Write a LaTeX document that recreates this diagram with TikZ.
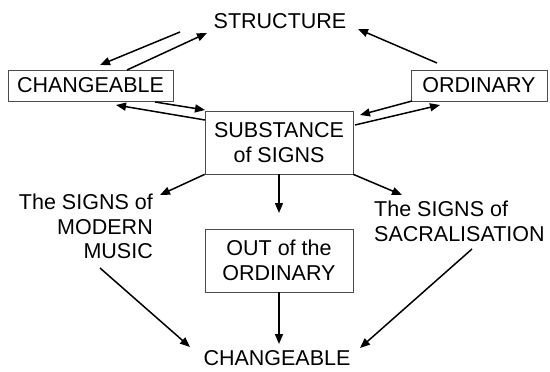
\documentclass[tikz,border=0pt]{standalone}
\usepackage{fontspec}
\setmainfont{Liberation Sans}
\usetikzlibrary{arrows.meta}
\begin{document}
\begin{tikzpicture}[x=1pt,y=-1pt,
  lbl/.style={font=\fontsize{21.5}{24.5}\selectfont, inner sep=0pt, align=center},
  bx/.style={lbl, draw=black!70, line width=0.8pt, fill=white},
  arr/.style={line width=1.5pt, -{Triangle[length=10pt,width=8pt]}}]
\useasboundingbox (0,0) rectangle (550,372);
% nodes
\node[lbl] (str) at (280,21) {STRUCTURE};
\node[bx, minimum width=165pt, minimum height=31pt] (ch1) at (90.5,85.5) {CHANGEABLE};
\node[bx, minimum width=136pt, minimum height=31pt] (ord) at (479,85.5) {ORDINARY};
\node[bx, minimum width=148pt, minimum height=63pt] (sub) at (279,142.5) {SUBSTANCE\\of SIGNS};
\node[lbl, align=right, anchor=north east] (mm) at (153,194) {The SIGNS of\\MODERN\\MUSIC};
\node[bx, minimum width=148pt, minimum height=63pt] (out) at (279,260.5) {OUT of the\\ORDINARY};
\node[lbl, align=left, anchor=north west] (sac) at (374,201) {The SIGNS of\\SACRALISATION};
\node[lbl] (ch2) at (277,358) {CHANGEABLE};
% endpoints
\coordinate (a1s) at (180,32); \coordinate (a1e) at (100,65);
\coordinate (a2s) at (127,70); \coordinate (a2e) at (207,33);
\coordinate (a3s) at (437,63); \coordinate (a3e) at (358,29);
\coordinate (a4s) at (155,102); \coordinate (a4e) at (205,110);
\coordinate (a5s) at (205,120); \coordinate (a5e) at (116,105);
\coordinate (a6s) at (412,101); \coordinate (a6e) at (360,115);
\coordinate (a7s) at (355,125); \coordinate (a7e) at (440,105);
\coordinate (a8e) at (160,195);
\coordinate (a9e) at (279,213);
\coordinate (a10e) at (402,195);
\coordinate (a11s) at (100,268); \coordinate (a11e) at (190,347);
\coordinate (a12e) at (279,344);
\coordinate (a13s) at (472,249); \coordinate (a13e) at (360,348);
% connectors
\draw[arr] (a1s) -- (a1e);
\draw[arr] (a2s) -- (a2e);
\draw[arr] (a3s) -- (a3e);
\draw[arr] (a4s) -- (a4e);
\draw[arr] (a5s) -- (a5e);
\draw[arr] (a6s) -- (a6e);
\draw[arr] (a7s) -- (a7e);
\draw[arr] (sub.south west) -- (a8e);
\draw[arr] (sub.south) -- (a9e);
\draw[arr] (sub.south east) -- (a10e);
\draw[arr] (a11s) -- (a11e);
\draw[arr] (out.south) -- (a12e);
\draw[arr] (a13s) -- (a13e);
\end{tikzpicture}
\end{document}
